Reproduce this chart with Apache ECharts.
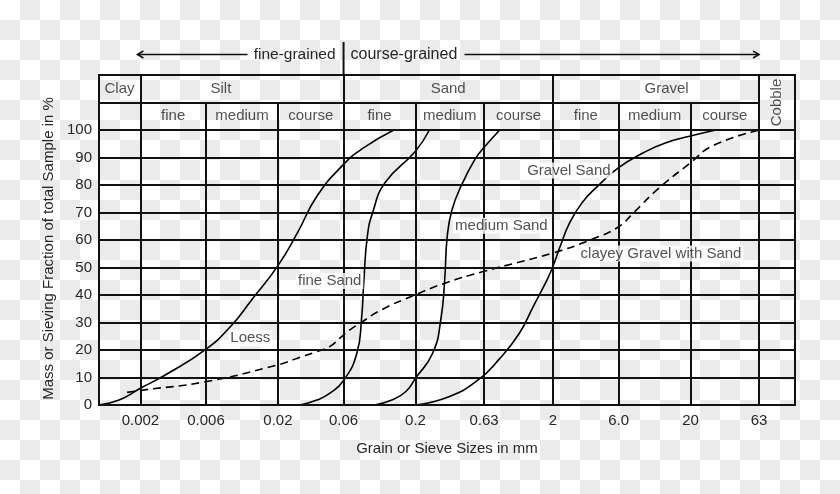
<!DOCTYPE html>
<html>
<head>
<meta charset="utf-8">
<script src="https://cdn.jsdelivr.net/npm/echarts@6/dist/echarts.min.js"></script>
<style>
html, body { margin: 0; padding: 0; width: 840px; height: 494px; overflow: hidden;
  background-color: #fff;
  background-image: conic-gradient(#ebebeb 0 25%, #fff 0 50%, #ebebeb 0 75%, #fff 0);
  background-size: 40px 40px; }
#chart { width: 840px; height: 494px; }
</style>
</head>
<body>
<div id="chart"></div>
<script>
// ---- data ----
const sieveSizes  = [0.002, 0.006, 0.02, 0.06, 0.2, 0.63, 2, 6, 20, 63];
const sieveLabels = ['0.002', '0.006', '0.02', '0.06', '0.2', '0.63', '2', '6.0', '20', '63'];
const classBounds = [0.002, 0.06, 2, 63];
const classNames  = ['Clay', 'Silt', 'Sand', 'Gravel', 'Cobble'];
const classLabelAt = [0.00141, 0.0077, 0.346, 13.4, 85];
const subNames = ['fine', 'medium', 'course', 'fine', 'medium', 'course', 'fine', 'medium', 'course'];
const pctLines = [0, 10, 20, 30, 40, 50, 60, 70, 80, 90, 100];

const loessSize = [0.001, 0.0014, 0.002, 0.00303, 0.006, 0.00929, 0.0129, 0.0199, 0.0277, 0.0384, 0.06, 0.0844, 0.1394];
const loessPct  = [0, 1.8, 6.1, 10.9, 20.3, 29.2, 38.3, 50.5, 62.6, 75.9, 87.5, 93.6, 100];

const fineSandSize = [0.029, 0.0384, 0.0478, 0.06, 0.075, 0.081, 0.0844, 0.0894, 0.0977, 0.12, 0.2, 0.2526];
const fineSandPct  = [0, 1.8, 4.3, 8.9, 18.8, 31, 45.6, 61.4, 70, 80.8, 92.3, 100];

const medSandSize = [0.1007, 0.1348, 0.1704, 0.2, 0.2665, 0.3057, 0.3263, 0.3405, 0.3694, 0.4348, 0.5414, 0.63, 0.82];
const medSandPct  = [0, 1.8, 4.9, 9.7, 18.8, 31, 45.6, 61.4, 71.1, 80.2, 89.3, 93.6, 100];

const gravSandSize = [0.2, 0.35, 0.571, 0.804, 1.139, 1.436, 1.814, 2, 2.257, 2.641, 3.25, 4.23, 6, 9.16, 12.97, 20, 30.6];
const gravSandPct  = [0, 3, 9.1, 16.4, 26.1, 35.8, 45.6, 50.5, 57.7, 66.2, 73.5, 79.6, 86.3, 91.8, 95.2, 97.8, 100];

const clayGravSize = [0.0016, 0.002, 0.006, 0.02, 0.0277, 0.0384, 0.0478, 0.0564, 0.0667, 0.0795, 0.1131, 0.2, 0.3317, 0.63, 2, 3.81, 6, 7.7, 11.5, 20, 28.9, 63];
const clayGravPct  = [4.6, 5.3, 8.5, 14.6, 17, 19.4, 21.3, 24.3, 27.3, 29.8, 34.6, 40.1, 44.4, 48.6, 55.3, 60.2, 64.8, 69.9, 78.4, 88.1, 94.2, 100];

const curveNames = ['Loess', 'fine Sand', 'medium Sand', 'Gravel Sand', 'clayey Gravel with Sand'];
const curveLabelSize = [0.0126, 0.0476, 0.843, 2.61, 12.2];
const curveLabelPct  = [24.3, 45.1, 65.2, 85.3, 55.1];

// ---- build ----
const zip = (a, b) => a.map((v, i) => [v, b[i]]);
const FONT = 'Liberation Sans';
const TXT = '#262626';
const LINE = '#111';
const X_MIN = 0.001, X_MAX = 115;

const vLines = sieveSizes.map((v, i) => [
  { coord: [v, 0], name: sieveLabels[i] },
  { coord: [v, classBounds.includes(v) ? 120 : 110] }
]);
const hLines = pctLines.map(p => ({ yAxis: p }))
  .concat([[{ coord: [X_MIN, 110] }, { coord: [63, 110] }]]);

const subLabelData = subNames.map((n, i) => ({
  name: n, value: [Math.sqrt(sieveSizes[i] * sieveSizes[i + 1]), 105]
}));
const classLabelData = classNames.map((n, i) => (n === 'Cobble'
  ? { name: n, value: [classLabelAt[i], 110], label: { rotate: 90, align: 'center', verticalAlign: 'middle' } }
  : { name: n, value: [classLabelAt[i], 115] }));
const curveLabelData = curveNames.map((n, i) => ({ name: n, value: [curveLabelSize[i], curveLabelPct[i]] }));

const curveStyle = (dashed) => ({
  type: 'line', showSymbol: false, smooth: 0.5, silent: true, z: 4,
  lineStyle: { color: '#000', width: 1.6, type: dashed ? [8, 5] : 'solid' }
});

const chart = echarts.init(document.getElementById('chart'));
const option = {
  animation: false,
  textStyle: { fontFamily: FONT, fontSize: 15, color: TXT },
  grid: { left: 99, right: 45, top: 75, bottom: 89, show: true, borderColor: LINE, borderWidth: 2, backgroundColor: 'transparent' },
  xAxis: {
    type: 'log', logBase: 10, min: X_MIN, max: X_MAX,
    axisLine: { show: false }, axisTick: { show: false }, axisLabel: { show: false }, splitLine: { show: false },
    name: 'Grain or Sieve Sizes in mm', nameLocation: 'middle', nameGap: 36,
    nameTextStyle: { fontFamily: FONT, fontSize: 15, color: TXT }
  },
  yAxis: {
    type: 'value', min: 0, max: 120, interval: 10,
    axisLine: { show: false }, axisTick: { show: false },
    axisLabel: { margin: 7, fontFamily: FONT, fontSize: 15, color: TXT, formatter: v => (v <= 100 ? String(v) : '') },
    splitLine: { show: false },
    name: 'Mass or Sieving Fraction of total Sample in %', nameLocation: 'middle', nameGap: 40,
    nameTextStyle: { fontFamily: FONT, fontSize: 15, color: TXT, padding: [0, 17, 0, 0] }
  },
  series: [
    {
      type: 'line', data: [], silent: true, z: 2,
      markLine: {
        silent: true, symbol: 'none', animation: false,
        lineStyle: { color: LINE, width: 2, type: 'solid' },
        label: { show: true, position: 'start', distance: 8, formatter: p => p.name, fontFamily: FONT, fontSize: 15, color: TXT },
        emphasis: { disabled: true },
        data: vLines
      }
    },
    {
      type: 'line', data: [], silent: true, z: 2,
      markLine: {
        silent: true, symbol: 'none', animation: false,
        lineStyle: { color: LINE, width: 2, type: 'solid' },
        label: { show: false },
        emphasis: { disabled: true },
        data: hLines
      }
    },
    Object.assign(curveStyle(false), { name: 'Loess', data: zip(loessSize, loessPct) }),
    Object.assign(curveStyle(false), { name: 'fine Sand', data: zip(fineSandSize, fineSandPct) }),
    Object.assign(curveStyle(false), { name: 'medium Sand', data: zip(medSandSize, medSandPct) }),
    Object.assign(curveStyle(false), { name: 'Gravel Sand', data: zip(gravSandSize, gravSandPct) }),
    Object.assign(curveStyle(true), { name: 'clayey Gravel with Sand', data: zip(clayGravSize, clayGravPct) }),
    {
      type: 'scatter', silent: true, z: 6, symbolSize: 1, itemStyle: { color: 'rgba(0,0,0,0)' },
      label: { show: true, position: 'inside', formatter: p => p.name, fontFamily: FONT, fontSize: 15, color: TXT },
      data: subLabelData.concat(classLabelData)
    },
    {
      type: 'scatter', silent: true, z: 8, symbolSize: 1, itemStyle: { color: 'rgba(0,0,0,0)' },
      label: { show: true, position: 'inside', formatter: p => p.name, fontFamily: FONT, fontSize: 15, color: TXT,
               backgroundColor: '#fff', padding: [1, 2], lineHeight: 14 },
      data: curveLabelData
    }
  ]
};
chart.setOption(option);

// top annotation: fine-grained / course-grained arrows, positioned from the axes
const px = (v, y) => chart.convertToPixel({ gridIndex: 0 }, [v, y]);
const divPt = px(0.06, 120);
const xDiv = divPt[0], yTop = divPt[1];
const xLeft = px(0.002, 120)[0];
const xRight = px(63, 120)[0];
const ay = yTop - 20.5;
const arrowStyle = { stroke: LINE, lineWidth: 1.5, fill: null };
chart.setOption({
  graphic: [
    { type: 'line', silent: true, shape: { x1: xDiv, y1: yTop - 33, x2: xDiv, y2: yTop }, style: { stroke: LINE, lineWidth: 2 } },
    { type: 'text', silent: true, x: xDiv - 8, y: ay, style: { text: 'fine-grained', align: 'right', verticalAlign: 'middle', font: '15.5px "Liberation Sans"', fill: TXT } },
    { type: 'text', silent: true, x: xDiv + 7, y: ay, style: { text: 'course-grained', align: 'left', verticalAlign: 'middle', font: '16px "Liberation Sans"', fill: TXT } },
    { type: 'line', silent: true, shape: { x1: xLeft - 3, y1: ay, x2: xDiv - 96, y2: ay }, style: arrowStyle },
    { type: 'polyline', silent: true, shape: { points: [[xLeft + 3, ay - 3.5], [xLeft - 3, ay], [xLeft + 3, ay + 3.5]] }, style: arrowStyle },
    { type: 'line', silent: true, shape: { x1: xDiv + 121, y1: ay, x2: xRight, y2: ay }, style: arrowStyle },
    { type: 'polyline', silent: true, shape: { points: [[xRight - 6, ay - 3.5], [xRight, ay], [xRight - 6, ay + 3.5]] }, style: arrowStyle }
  ]
});
</script>
</body>
</html>
